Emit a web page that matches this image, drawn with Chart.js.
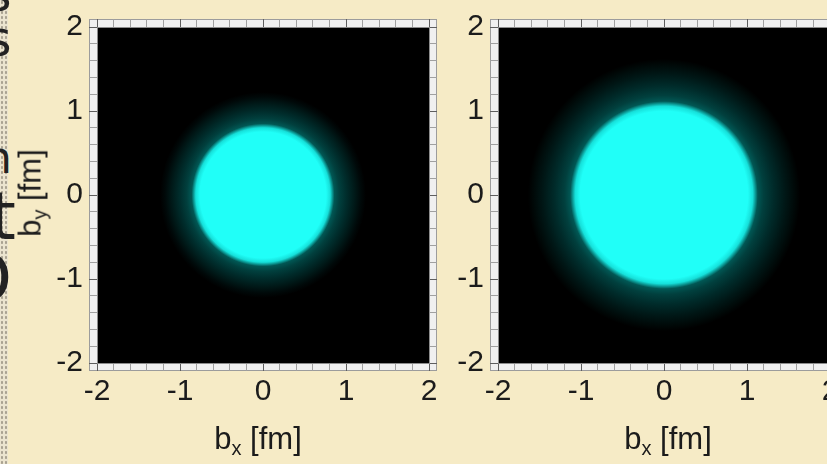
<!DOCTYPE html>
<html>
<head>
<meta charset="utf-8">
<script src="https://cdn.jsdelivr.net/npm/chart.js@4.4.1/dist/chart.umd.min.js"></script>
<style>
  html, body { margin: 0; padding: 0; }
  body {
    width: 827px; height: 464px; overflow: hidden; position: relative;
    background: #f6ebc6; color: #1b1b1b;
    font-family: "Liberation Sans", Arial, sans-serif;
  }
  .panel { position: absolute; top: 0; }
  #panelA { left: 0; }
  #panelB { left: 445px; }
  .axis-title {
    position: absolute; font-size: 31px; line-height: 1; white-space: nowrap;
    transform: translate(-50%, -50%);
  }
  .axis-title sub { font-size: 20px; vertical-align: -6px; line-height: 0; }
  .axis-title.rot { transform: translate(-50%, -50%) rotate(-90deg); }
  .edge {
    position: absolute; left: 0; top: 0; width: 8px; height: 464px;
    background-color: #ebe4cf;
    background-image: radial-gradient(#a9a291 0.9px, transparent 1.2px);
    background-size: 4px 5px;
  }
  .frag {
    position: absolute; line-height: 1; color: #222;
    font-family: "DejaVu Sans", sans-serif;
  }
</style>
</head>
<body>
<div class="edge"></div>
<span class="frag" style="left:-14px; top:-30px; font-size:49px;">s</span>
<span class="frag" style="left:-14px; top:15px; font-size:49px;">s</span>
<span class="frag" style="left:-16px; top:136px; font-size:44px;">n</span>
<span class="frag" style="left:-10px; top:184px; font-size:66px;">t</span>
<span class="frag" style="left:-40px; top:246px; font-size:66px;">O</span>

<div class="panel" id="panelA"><canvas id="chartA" width="441" height="464"></canvas></div>
<div class="panel" id="panelB"><canvas id="chartB" width="397" height="464"></canvas></div>

<div class="axis-title rot" style="left:30px; top:193px;">b<sub>y</sub> [fm]</div>
<div class="axis-title" style="left:258px; top:438px;">b<sub>x</sub> [fm]</div>
<div class="axis-title" style="left:668px; top:438px;">b<sub>x</sub> [fm]</div>

<script>
// axes: both panels share the same range
const axisMin = -2;
const axisMax = 2;
const minorStep = 0.2;
const majorTicks = [-2, -1, 0, 1, 2];

// disc centres (fm)
const centerA = [{ x: 0, y: 0 }];
const centerB = [{ x: 0, y: 0 }];

// radial density profile, left panel: radius (fm) -> relative density
const radiusA  = [0, 0.76, 0.81, 0.86, 0.92, 1.00, 1.10, 1.18, 1.24];
const densityA = [1, 1, 0.88, 0.34, 0.25, 0.18, 0.1, 0.035, 0];

// radial density profile, right panel
const radiusB  = [0, 1.01, 1.07, 1.13, 1.20, 1.32, 1.46, 1.58, 1.64];
const densityB = [1, 1, 0.88, 0.34, 0.25, 0.17, 0.09, 0.03, 0];

// black -> teal -> cyan
function densityColor(v) {
  return `rgb(${Math.round(32 * v * v * v)}, ${Math.round(255 * v)}, ${Math.round(248 * v)})`;
}

function isMajor(v) {
  return majorTicks.some(m => Math.abs(m - v) < 1e-6);
}

// black plot area with light tick strip around it
const framePlugin = {
  id: 'frame',
  beforeDraw(chart) {
    const { ctx, chartArea: a } = chart;
    const w = 8;
    ctx.save();
    ctx.fillStyle = '#f0f0f0';
    ctx.fillRect(a.left - w, a.top - w, a.right - a.left + 2 * w, a.bottom - a.top + 2 * w);
    ctx.strokeStyle = '#9c9c9c';
    ctx.lineWidth = 1;
    ctx.strokeRect(a.left - w + 0.5, a.top - w + 0.5, a.right - a.left + 2 * w - 1, a.bottom - a.top + 2 * w - 1);
    ctx.fillStyle = '#000';
    ctx.fillRect(a.left, a.top, a.right - a.left, a.bottom - a.top);
    ctx.restore();
  }
};

function makeAxis(position, showLabels, size) {
  const horizontal = position === 'top' || position === 'bottom';
  return {
    type: 'linear',
    position,
    min: axisMin,
    max: axisMax,
    afterFit: s => { if (horizontal) s.height = size; else s.width = size; },
    ticks: {
      display: showLabels,
      stepSize: minorStep,
      autoSkip: false,
      maxRotation: 0,
      padding: horizontal ? 3 : 6,
      color: '#1b1b1b',
      font: { family: '"Liberation Sans", Arial, sans-serif', size: 30 },
      callback: v => isMajor(v) ? String(Math.round(v)) : ''
    },
    grid: {
      drawOnChartArea: false,
      drawTicks: true,
      tickLength: 8,
      lineWidth: 1,
      color: c => (c.tick && isMajor(c.tick.value)) ? '#5e5e5e' : '#a0a0a0'
    },
    border: { display: true, color: '#8c8c8c', width: 1 }
  };
}

// point radius in pixels, taken from the x scale
function discRadius(radius) {
  const rMax = radius[radius.length - 1];
  return c => {
    const sx = c.chart.scales.x;
    if (!sx || !c.raw) return 0;
    return sx.getPixelForValue(c.raw.x + rMax) - sx.getPixelForValue(c.raw.x);
  };
}

function discFill(radius, density) {
  const rMax = radius[radius.length - 1];
  return c => {
    const chart = c.chart;
    if (!chart.chartArea || !c.raw) return 'rgba(0,0,0,0)';
    const sx = chart.scales.x, sy = chart.scales.y;
    const cx = sx.getPixelForValue(c.raw.x);
    const cy = sy.getPixelForValue(c.raw.y);
    const R = sx.getPixelForValue(c.raw.x + rMax) - cx;
    const g = chart.ctx.createRadialGradient(cx, cy, 0, cx, cy, R);
    radius.forEach((r, i) => g.addColorStop(r / rMax, densityColor(density[i])));
    return g;
  };
}

function createPanel(canvas, centers, radius, density, leftWidth) {
  return new Chart(canvas, {
    type: 'scatter',
    data: {
      datasets: [{
        data: centers,
        pointRadius: discRadius(radius),
        pointHoverRadius: discRadius(radius),
        pointHitRadius: 0,
        pointBorderWidth: 0,
        pointBackgroundColor: discFill(radius, density),
        pointHoverBackgroundColor: discFill(radius, density),
        clip: 0
      }]
    },
    options: {
      responsive: false,
      animation: false,
      events: [],
      layout: { padding: 0 },
      scales: {
        x: makeAxis('bottom', true, 101),
        x2: makeAxis('top', false, 27),
        y: makeAxis('left', true, leftWidth),
        y2: makeAxis('right', false, 12)
      },
      plugins: {
        legend: { display: false },
        tooltip: { enabled: false }
      }
    },
    plugins: [framePlugin]
  });
}

createPanel(document.getElementById('chartA'), centerA, radiusA, densityA, 97);
createPanel(document.getElementById('chartB'), centerB, radiusB, densityB, 53);
</script>
</body>
</html>
